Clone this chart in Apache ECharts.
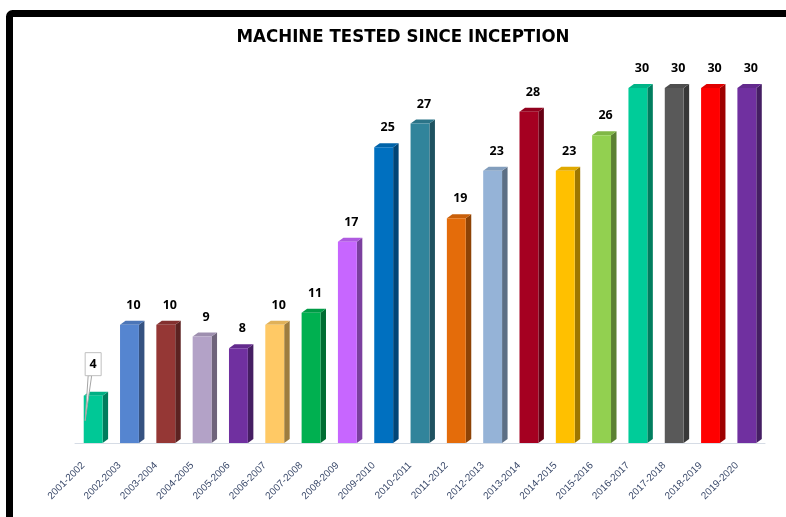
<!DOCTYPE html>
<html>
<head>
<meta charset="utf-8">
<script src="https://cdn.jsdelivr.net/npm/echarts@6/dist/echarts.min.js"></script>
<style>
html,body{margin:0;padding:0;background:#fff;}
#chart{width:786px;height:517px;}
</style>
</head>
<body>
<div id="chart"></div>
<script>
const categories = ['2001-2002','2002-2003','2003-2004','2004-2005','2005-2006','2006-2007','2007-2008','2008-2009','2009-2010','2010-2011','2011-2012','2012-2013','2013-2014','2014-2015','2015-2016','2016-2017','2017-2018','2018-2019','2019-2020'];
const values = [4,10,10,9,8,10,11,17,25,27,19,23,28,23,26,30,30,30,30];
const colors = ['#00C896','#5585D0','#953735','#B3A2C7','#7030A0','#FFC965','#00B050','#C766FF','#0070C0','#31849B','#E46C0A','#95B3D7','#A50021','#FFC000','#92D050','#00CC99','#595959','#FF0000','#7030A0'];
const callouts = ['2001-2002'];

function shade(hex, f) {
  const n = parseInt(hex.slice(1), 16);
  let r = (n >> 16) & 255, g = (n >> 8) & 255, b = n & 255;
  if (f < 1) { r *= f; g *= f; b *= f; }
  else { const t = f - 1; r += (255 - r) * t; g += (255 - g) * t; b += (255 - b) * t; }
  return 'rgb(' + Math.round(r) + ',' + Math.round(g) + ',' + Math.round(b) + ')';
}

const chart = echarts.init(document.getElementById('chart'));
const labelFont = { fontSize: 12.5, fontWeight: 'bold', fontFamily: '"Open Sans", "Liberation Sans", Arial, sans-serif', fill: '#000' };

function renderItem(params, api) {
  const i = api.value(0), v = api.value(1);
  const p = api.coord([i, v]);
  const b = api.coord([i, 0]);
  const w = api.size([1, 0])[0] * 0.52;
  const dx = 5.5, dy = 4;
  const cx = p[0];
  const x0 = cx - w / 2, x1 = cx + w / 2;
  const col = colors[i];
  const children = [
    { type: 'polygon', shape: { points: [[x1, p[1]], [x1 + dx, p[1] - dy], [x1 + dx, b[1] - dy], [x1, b[1]]] }, style: { fill: shade(col, 0.62) } },
    { type: 'polygon', shape: { points: [[x0, p[1]], [x0 + dx, p[1] - dy], [x1 + dx, p[1] - dy], [x1, p[1]]] }, style: { fill: shade(col, 0.88) } },
    { type: 'rect', shape: { x: x0, y: p[1], width: w, height: b[1] - p[1] }, style: { fill: col } }
  ];
  if (callouts.indexOf(categories[i]) >= 0) {
    children.push({ type: 'polygon', shape: { points: [[cx - 5, p[1] - 20], [cx - 1.5, p[1] - 20], [cx - 8, p[1] + 25]] }, style: { fill: '#fff', stroke: '#a6a6a6', lineWidth: 1 } });
    children.push({ type: 'rect', shape: { x: cx - 8, y: p[1] - 43, width: 16, height: 23 }, style: { fill: '#fff', stroke: '#bfbfbf', lineWidth: 1 } });
    children.push({ type: 'text', x: cx, y: p[1] - 31.5, style: Object.assign({ text: String(v), align: 'center', verticalAlign: 'middle' }, labelFont) });
  } else {
    children.push({ type: 'text', x: cx + 4, y: p[1] - dy - 9, style: Object.assign({ text: String(v), align: 'center', verticalAlign: 'bottom' }, labelFont) });
  }
  return { type: 'group', children: children };
}

chart.setOption({
  animation: false,
  backgroundColor: '#fff',
  title: {
    text: 'MACHINE TESTED SINCE INCEPTION',
    left: 398, top: 23, textAlign: 'center',
    textStyle: { fontSize: 18.5, fontWeight: 'bold', color: '#000', fontFamily: '"Liberation Sans Narrow", "DejaVu Sans Condensed", sans-serif' }
  },
  grid: { left: 75, right: 21, top: 88, bottom: 74 },
  xAxis: {
    type: 'category', data: categories, offset: 9,
    axisLine: { lineStyle: { color: '#d6dce5', width: 1 } },
    axisTick: { show: false },
    axisLabel: { rotate: 45, interval: 0, fontSize: 10, color: '#3b4a6b', fontFamily: '"Liberation Sans", Arial, sans-serif', margin: 2, padding: [0, 14, 0, 0] }
  },
  yAxis: { type: 'value', min: 0, max: 30, show: false, splitLine: { show: false } },
  graphic: [{
    type: 'rect', z: 100,
    shape: { x: 9.5, y: 13.5, width: 900, height: 700, r: 3 },
    style: { fill: 'none', stroke: '#000', lineWidth: 7 }
  }],
  series: [{
    type: 'custom',
    renderItem: renderItem,
    encode: { x: 0, y: 1 },
    data: values.map((v, i) => [i, v]),
    clip: false
  }]
});
</script>
</body>
</html>
